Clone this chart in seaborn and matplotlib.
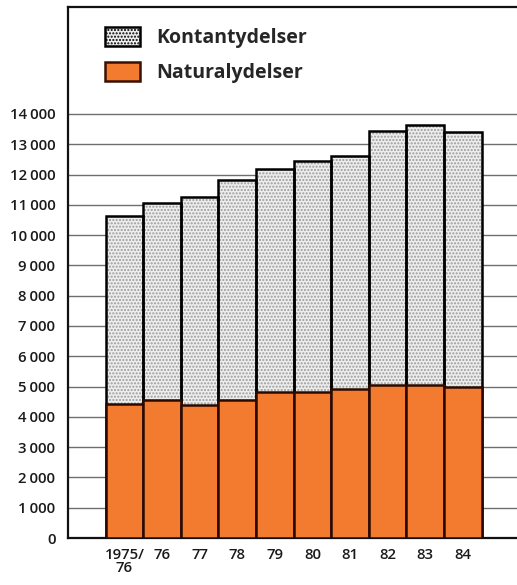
import matplotlib
matplotlib.use('Agg')
import matplotlib.pyplot as plt
import matplotlib.patches as mpatches
from matplotlib.ticker import FuncFormatter
import seaborn as sns
import pandas as pd

# Data (mill. kr)
years = ['1975/\n76', '76', '77', '78', '79', '80', '81', '82', '83', '84']
total = [10630, 11060, 11250, 11810, 12180, 12440, 12620, 13440, 13630, 13420]
natural = [4420, 4550, 4390, 4550, 4820, 4820, 4930, 5050, 5050, 4990]

df = pd.DataFrame({'Year': years, 'Total': total, 'Natural': natural})

orange = '#f37b30'
grey_fill = '#ededed'

sns.set_style('white')
plt.rcParams['font.family'] = ['Open Sans', 'DejaVu Sans']

fig = plt.figure(figsize=(5.17, 5.85), dpi=100)
ax = fig.add_axes([0.1315, 0.0803, 0.95, 0.9077])

# Gridlines
for v in range(0, 15000, 1000):
    ax.axhline(v, color='#6e6e6e', lw=1.0, zorder=0)

# Kontantydelser: dotted grey fill (total height), then black outline
sns.barplot(data=df, x='Year', y='Total', color=grey_fill, width=1.0,
            saturation=1, ax=ax, zorder=2)
for p in ax.patches:
    p.set_hatch('.....')
    p.set_edgecolor('#9a9a9a')
    p.set_linewidth(0)
sns.barplot(data=df, x='Year', y='Total', fill=False, width=1.0,
            edgecolor='black', linewidth=1.8, ax=ax, zorder=3)

# Naturalydelser
sns.barplot(data=df, x='Year', y='Natural', color=orange, width=1.0,
            saturation=1, edgecolor='#2a0a00', linewidth=1.8, ax=ax, zorder=4)

ax.set_xlim(-1.5, 11.56)
ax.set_ylim(0, 17530)
ax.set_yticks(range(0, 15000, 1000))
ax.yaxis.set_major_formatter(FuncFormatter(
    lambda v, p: f'{int(v):,}'.replace(',', '\u2009') if v >= 1000 else '0'))
ax.tick_params(axis='both', length=0, labelsize=10.8, colors='#1a1a1a')
ax.tick_params(axis='y', pad=9)
ax.tick_params(axis='x', pad=7)
for lbl in ax.get_yticklabels() + ax.get_xticklabels():
    lbl.set_fontweight('semibold')
    lbl.set_linespacing(0.95)
ax.set_xlabel('')
ax.set_ylabel('')

for side in ['left', 'top', 'bottom']:
    ax.spines[side].set_visible(True)
    ax.spines[side].set_color('#111111')
    ax.spines[side].set_linewidth(1.6)
ax.spines['right'].set_visible(False)

# Legend
h1 = mpatches.Patch(facecolor=grey_fill, edgecolor='black', hatch='.....', linewidth=1.8)
h2 = mpatches.Patch(facecolor=orange, edgecolor='#3a1000', linewidth=1.8)
leg = ax.legend([h1, h2], ['Kontantydelser', 'Naturalydelser'],
                loc='upper left', bbox_to_anchor=(0.04, 0.996), frameon=False,
                prop={'weight': 'bold', 'size': 14},
                handlelength=1.8, handleheight=1.13, handletextpad=0.82,
                labelspacing=0.72)

fig.savefig('out.png', dpi=100)
